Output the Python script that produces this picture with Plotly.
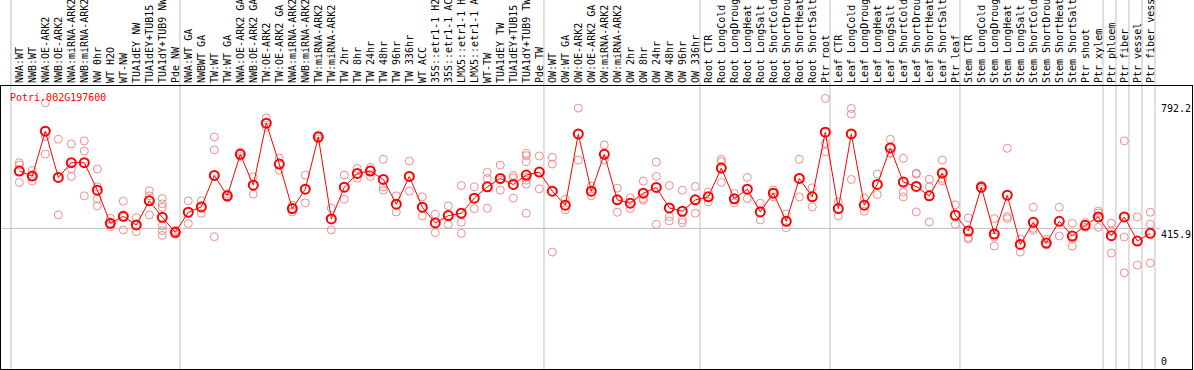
import plotly.graph_objects as go

# ---------------- data ----------------
title_text = "Potri.002G197600"

categories = [
    "NWA:WT", "NWB:WT", "NWA:OE-ARK2", "NWB:OE-ARK2", "NWA:miRNA-ARK2", "NWB:miRNA-ARK2",
    "NW 0hr", "WT H2O", "WT-NW", "TUA1dEY NW", "TUA1dEY+TUB15 NW", "TUA1dY+TUB9 NW", "Pde NW",
    "NWA:WT GA", "NWBWT GA", "TW:WT", "TW:WT GA", "NWA:OE-ARK2 GA", "NWB:OE-ARK2 GA",
    "TW:OE-ARK2", "TW:OE-ARK2 GA", "NWA:miRNA-ARK2 GA", "NWB:miRNA-ARK2 GA", "TW:miRNA-ARK2",
    "TW:miRNA-ARK2 GA", "TW 2hr", "TW 8hr", "TW 24hr", "TW 48hr", "TW 96hr", "TW 336hr",
    "WT ACC", "35S::etr1-1 H2O", "35S::etr1-1 ACC", "LMX5::etr1-1 H2O", "LMX5::etr1-1 ACC",
    "WT-TW", "TUA1dEY TW", "TUA1dEY+TUB15 TW", "TUA1dY+TUB9 TW", "Pde TW",
    "OW:WT", "OW:WT GA", "OW:OE-ARK2", "OW:OE-ARK2 GA", "OW:miRNA-ARK2", "OW:miRNA-ARK2 GA",
    "OW 2hr", "OW 8hr", "OW 24hr", "OW 48hr", "OW 96hr", "OW 336hr",
    "Root CTR", "Root LongCold", "Root LongDrought", "Root LongHeat", "Root LongSalt",
    "Root ShortCold", "Root ShortDrought", "Root ShortHeat", "Root ShortSalt", "Ptr root",
    "Leaf CTR", "Leaf LongCold", "Leaf LongDrought", "Leaf LongHeat", "Leaf LongSalt",
    "Leaf ShortCold", "Leaf ShortDrought", "Leaf ShortHeat", "Leaf ShortSalt", "Ptr leaf",
    "Stem CTR", "Stem LongCold", "Stem LongDrought", "Stem LongHeat", "Stem LongSalt",
    "Stem ShortCold", "Stem ShortDrought", "Stem ShortHeat", "Stem ShortSalt", "Ptr shoot",
    "Ptr xylem", "Ptr phloem", "Ptr fiber", "Ptr vessel", "Ptr fiber vessel",
]

group_sizes = [13, 28, 12, 10, 10, 11, 1, 1, 1, 1]

means = [
    587, 572, 706, 568, 612, 612, 530, 431, 452, 426,
    498, 449, 404, 464, 480, 574, 513, 637, 545, 730,
    608, 475, 533, 689, 444, 539, 580, 587, 562, 488,
    571, 479, 432, 454, 461, 506, 540, 565, 547, 575,
    584, 527, 485, 698, 527, 637, 501, 491, 521, 538,
    477, 467, 501, 510, 596, 504, 533, 465, 521, 437,
    565, 510, 703, 475, 698, 485, 547, 656, 554, 541,
    513, 581, 455, 408, 539, 399, 515, 368, 434, 372,
    437, 393, 425, 450, 394, 450, 378, 401,
]

replicates = [
    [612, 605, 553], [589, 570, 557], [791, 690, 638], [682, 456], [668, 593, 571],
    [677, 647, 513], [593, 540, 504, 483], [446, 428, 421], [497, 449, 411], [448, 425, 406],
    [528, 513, 456], [505, 489, 479, 424, 409, 395], [410, 404, 398], [498, 430], [498, 461],
    [689, 650, 391], [519, 507], [644, 630], [570, 518], [746, 718],
    [626, 590], [485, 465], [575, 492], [695, 683], [476, 411],
    [575, 503], [595, 566], [598, 590, 571], [622, 540, 530], [513, 465],
    [617, 527], [510, 453], [458, 403], [483, 428], [544, 434, 401],
    [540, 475], [583, 565, 476], [605, 560, 530], [574, 567, 506], [640, 633, 615, 568, 560, 548, 461],
    [632, 534], [628, 608, 345], [503, 471], [775, 620], [542, 513],
    [665, 620], [536, 464], [507, 475], [557, 505, 500], [614, 571, 428],
    [544, 451, 438], [530, 441, 433], [541, 461], [525, 495], [622, 615, 553],
    [520, 492], [568, 505], [491, 441], [530, 510], [459, 418],
    [622, 510], [537, 480], [804, 670, 644], [495, 453], [774, 757, 562],
    [506, 467], [578, 517], [682, 642, 640], [625, 524, 510], [581, 578, 465],
    [563, 540, 435], [620, 565, 558], [486, 428], [447, 389, 384], [545, 534],
    [445, 390, 363], [655, 451, 445], [384, 345], [479, 416, 410], [383, 366],
    [479, 393], [431, 384, 363], [433, 419], [468, 462, 419], [431, 408, 342],
    [677, 390, 283], [450, 306], [464, 428, 312],
]

scale_labels = ["792.2", "415.9", "0"]
scale_values = [792.2, 415.9, 0]
ref_line_value = 415.9

# ---------------- figure ----------------
FONT = "DejaVu Sans Mono"
idx = list(range(len(categories)))

rep_x, rep_y = [], []
for i, vals in enumerate(replicates):
    for v in vals:
        rep_x.append(i)
        rep_y.append(v)

fig = go.Figure()
fig.add_trace(go.Scatter(
    x=rep_x, y=rep_y, mode="markers", hoverinfo="skip",
    marker=dict(symbol="circle-open", size=8, color="#f08c8c", line=dict(width=1)),
))
fig.add_trace(go.Scatter(
    x=idx, y=means, mode="lines+markers",
    line=dict(color="#ff0000", width=1),
    marker=dict(symbol="circle-open", size=9, color="#ff0000", line=dict(width=2)),
))

X0, X1 = -1.4077, 90.208
shapes = []
b = 0
bounds = [0]
for g in group_sizes:
    b += g
    bounds.append(b)
for bb in bounds:
    xpos = bb - 0.64
    shapes.append(dict(type="line", xref="x", yref="paper", x0=xpos, x1=xpos, y0=0, y1=1.35,
                       line=dict(color="#c0c0c0", width=1), layer="below"))
shapes.append(dict(type="line", xref="x", yref="y", x0=X0, x1=87.75, y0=ref_line_value, y1=ref_line_value,
                   line=dict(color="#c0c0c0", width=1), layer="below"))

annotations = [dict(text=title_text, xref="paper", yref="paper", x=0.006, y=0.961,
                    xanchor="left", yanchor="middle", showarrow=False,
                    font=dict(family=FONT, size=10, color="#ff0000"))]
for lab, val in zip(scale_labels, scale_values):
    annotations.append(dict(text=lab, xref="x", yref="y", x=87.78, y=val,
                            xanchor="left", yanchor="bottom" if val == 0 else "top",
                            showarrow=False, borderpad=0,
                            font=dict(family=FONT, size=10, color="#000000")))

fig.update_layout(
    template="none",
    width=1194, height=370,
    margin=dict(l=1, r=2, t=86, b=1, pad=0),
    paper_bgcolor="white", plot_bgcolor="white",
    showlegend=False,
    shapes=shapes,
    annotations=annotations,
    xaxis=dict(
        range=[X0, X1], side="top", tickmode="array", tickvals=idx, ticktext=categories,
        tickangle=-90, tickfont=dict(family=FONT, size=10, color="#000000"),
        ticks="", showgrid=False, zeroline=False, automargin=False,
        showline=True, mirror=True, linecolor="#000000", linewidth=1,
    ),
    yaxis=dict(
        range=[-4.2, 841.1], showticklabels=False, ticks="", showgrid=False, zeroline=False,
        automargin=False, showline=True, mirror=True, linecolor="#000000", linewidth=1,
    ),
)

fig.write_html("out.html", config={"displayModeBar": False},
               post_script="document.body.style.margin='0';document.body.style.overflow='hidden';")
